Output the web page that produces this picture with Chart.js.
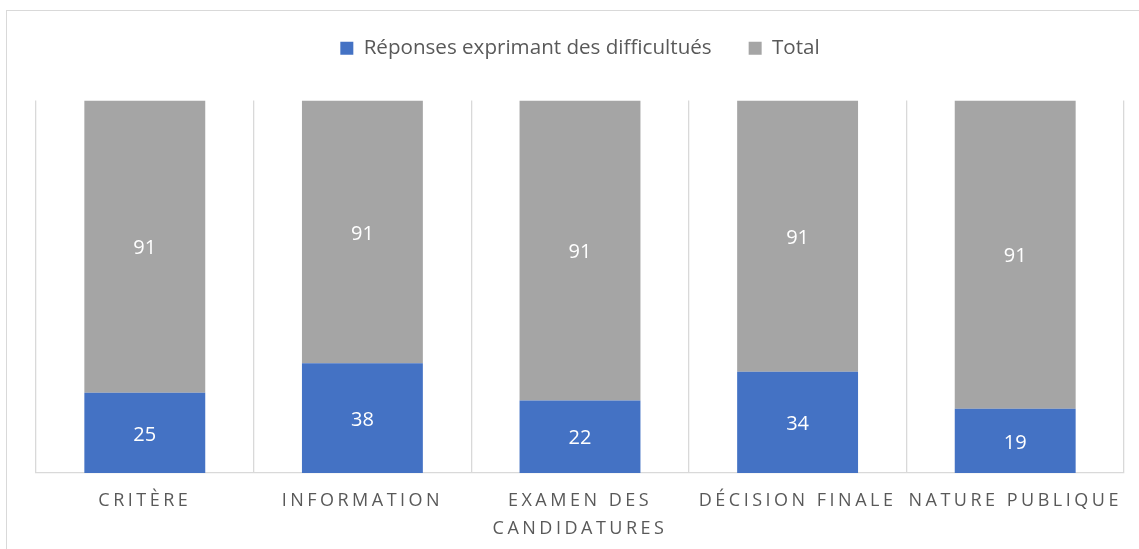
<!DOCTYPE html>
<html>
<head>
<meta charset="utf-8">
<script src="https://cdn.jsdelivr.net/npm/chart.js@4.4.1/dist/chart.umd.min.js"></script>
<style>
  html, body { margin: 0; padding: 0; background: #ffffff; overflow: hidden; }
  #frame { position: absolute; left: 6px; top: 10px; width: 1160px; height: 580px; border: 1.5px solid #d9d9d9; box-sizing: border-box; }
  #wrap { position: absolute; left: 0; top: 0; width: 1139px; height: 549px; }
</style>
</head>
<body>
<div id="frame"></div>
<div id="wrap"><canvas id="c" width="1139" height="549"></canvas></div>
<script>
const categories = ['CRITÈRE', 'INFORMATION', ['EXAMEN DES', 'CANDIDATURES'], 'DÉCISION FINALE', 'NATURE PUBLIQUE'];
const difficultes = [25, 38, 22, 34, 19];
const total = [91, 91, 91, 91, 91];
const seriesNames = ['Réponses exprimant des difficultués', 'Total'];

const rawValues = [difficultes, total];
const shareDiff = difficultes.map((v, i) => v / (v + total[i]) * 100);
const shareTotal = total.map((v, i) => v / (difficultes[i] + v) * 100);

const FONT = '"Open Sans", Lato, sans-serif';
const TEXT = '#595959';

const labelPlugin = {
  id: 'segLabels',
  afterDatasetsDraw(chart) {
    const ctx = chart.ctx;
    ctx.save();
    ctx.font = '20px ' + FONT;
    ctx.fillStyle = '#ffffff';
    ctx.textAlign = 'center';
    ctx.textBaseline = 'middle';
    chart.data.datasets.forEach((ds, i) => {
      const meta = chart.getDatasetMeta(i);
      meta.data.forEach((bar, j) => {
        const p = bar.getProps(['x', 'y', 'base'], true);
        ctx.fillText(String(rawValues[i][j]), p.x, (p.y + p.base) / 2 + 2);
      });
    });
    ctx.restore();
    ctx.letterSpacing = '3.5px';
  },
  afterDraw(chart) {
    chart.ctx.letterSpacing = '0px';
  }
};

new Chart(document.getElementById('c'), {
  type: 'bar',
  data: {
    labels: categories,
    datasets: [
      { label: seriesNames[0], data: shareDiff, backgroundColor: '#4472C4', borderWidth: 0 },
      { label: seriesNames[1], data: shareTotal, backgroundColor: '#A5A5A5', borderWidth: 0 }
    ]
  },
  options: {
    responsive: false,
    animation: false,
    events: [],
    layout: { padding: { left: 36, right: 15, top: 1, bottom: 0 } },
    datasets: { bar: { categoryPercentage: 1, barPercentage: 0.5556 } },
    plugins: {
      legend: {
        position: 'top',
        labels: {
          boxWidth: 13, boxHeight: 13, padding: 37,
          color: TEXT, font: { family: FONT, size: 20.6 }
        }
      },
      tooltip: { enabled: false }
    },
    scales: {
      x: {
        stacked: true,
        grid: { display: true, offset: true, drawTicks: false, color: '#d9d9d9', lineWidth: 1.3 },
        border: { display: true, color: '#d9d9d9', width: 1.3 },
        ticks: { z: 1, color: TEXT, font: { family: FONT, size: 18, lineHeight: 1.55 }, padding: 14, maxRotation: 0, minRotation: 0, autoSkip: false },
        afterFit(scale) { scale.height = 76; }
      },
      xTop: {
        type: 'category',
        axis: 'x',
        position: 'top',
        display: true,
        grid: { display: false },
        border: { display: false },
        ticks: { display: false },
        afterFit(scale) { scale.height = 32; }
      },
      y: {
        stacked: true,
        display: false,
        min: 0,
        max: 100
      }
    }
  },
  plugins: [labelPlugin]
});
</script>
</body>
</html>
